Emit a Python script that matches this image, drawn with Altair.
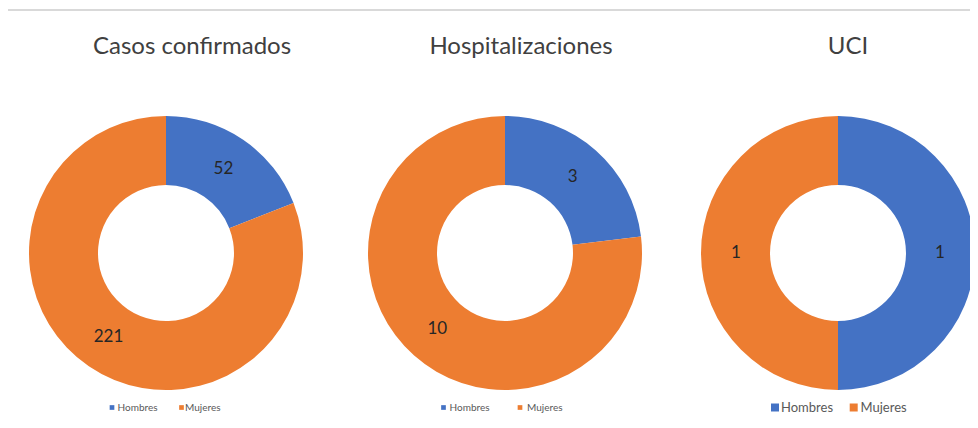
import altair as alt
import pandas as pd

# ---- data ----
charts = ["Casos confirmados", "Hospitalizaciones", "UCI"]
sexos = ["Hombres", "Mujeres"]
hombres = [52, 3, 1]
mujeres = [221, 10, 1]
colors = ["#4472C4", "#ED7D31"]

rows = []
for c, h, m in zip(charts, hombres, mujeres):
    rows.append({"grafico": c, "sexo": sexos[0], "valor": h, "orden": 0})
    rows.append({"grafico": c, "sexo": sexos[1], "valor": m, "orden": 1})
df = pd.DataFrame(rows)

# ---- layout ----
W, H = 962, 412
CX = [158, 497, 830]
CY = 245
R_IN, R_OUT, R_LAB = 68, 137, 102
TITLE_X = [184, 513, 840]
TITLE_Y = 39
FONT = "Lato"
# legend: (square x per sexo, text x per sexo, square size, font size)
LEG = [
    ([104, 173.5], [109.5, 177], 22, 10),
    ([435.5, 512], [441.5, 519], 22, 10),
    ([767, 845.7], [773, 852.5], 64, 13),
]
LEG_Y = 399.5

color_scale = alt.Scale(domain=sexos, range=colors)
layers = []

# top separator line
layers.append(
    alt.Chart(pd.DataFrame({"k": [0]})).mark_rule(color="#d9d9d9", strokeWidth=2).encode(
        x=alt.value(0), x2=alt.value(W), y=alt.value(2)
    )
)

for i, c in enumerate(charts):
    base = (
        alt.Chart(df)
        .transform_filter(alt.datum.grafico == c)
        .transform_joinaggregate(total="sum(valor)")
        .transform_calculate(frac="datum.valor / datum.total")
    )
    theta = alt.Theta("frac:Q", stack=True, scale=alt.Scale(domain=[0, 1]))
    arc = base.mark_arc(innerRadius=R_IN, outerRadius=R_OUT).encode(
        theta=theta,
        color=alt.Color("sexo:N", scale=color_scale, legend=None),
        order=alt.Order("orden:Q"),
        x=alt.value(CX[i]),
        y=alt.value(CY),
    )
    lab = base.mark_text(radius=R_LAB, font=FONT, fontSize=17, color="#262626").encode(
        theta=theta,
        text=alt.Text("valor:Q"),
        detail=alt.Detail("sexo:N"),
        order=alt.Order("orden:Q"),
        x=alt.value(CX[i]),
        y=alt.value(CY),
    )
    title = (
        alt.Chart(pd.DataFrame({"titulo": [c]}))
        .mark_text(font=FONT, fontSize=24, color="#404040", baseline="middle")
        .encode(text="titulo:N", x=alt.value(TITLE_X[i]), y=alt.value(TITLE_Y))
    )
    layers += [arc, lab, title]

    sq_x, tx_x, sq_size, fsize = LEG[i]
    for j, s in enumerate(sexos):
        item = alt.Chart(df).transform_filter(
            (alt.datum.grafico == c) & (alt.datum.sexo == s)
        )
        sq = item.mark_square(size=sq_size, opacity=1).encode(
            color=alt.Color("sexo:N", scale=color_scale, legend=None),
            x=alt.value(sq_x[j]),
            y=alt.value(LEG_Y),
        )
        tx = item.mark_text(
            font=FONT, fontSize=fsize, color="#595959", align="left", baseline="middle"
        ).encode(text="sexo:N", x=alt.value(tx_x[j]), y=alt.value(LEG_Y))
        layers += [sq, tx]

chart = (
    alt.layer(*layers)
    .properties(width=W, height=H, padding=0, autosize=alt.AutoSizeParams(type="none"))
    .configure_view(stroke=None)
)

chart.save("out.html", embed_options={"renderer": "svg", "actions": False})
